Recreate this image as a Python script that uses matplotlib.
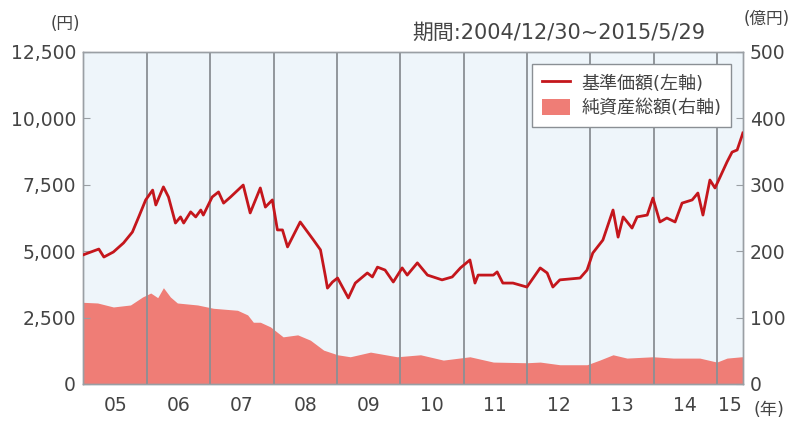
import matplotlib
matplotlib.use("Agg")
import matplotlib.pyplot as plt
from matplotlib.lines import Line2D
from matplotlib.patches import Patch

plt.rcParams['font.family'] = ['DejaVu Sans', 'Noto Sans CJK JP']

# 基準価額 (円), time in decimal years
price_t = [2004.99, 2005.24, 2005.32, 2005.47, 2005.63, 2005.77, 2005.87, 2005.98,
           2006.09, 2006.14, 2006.26, 2006.34, 2006.45, 2006.53, 2006.58, 2006.69,
           2006.77, 2006.85, 2006.89, 2007.03, 2007.13, 2007.21, 2007.32, 2007.52,
           2007.63, 2007.79, 2007.87, 2007.98, 2008.06, 2008.14, 2008.22, 2008.42,
           2008.63, 2008.74, 2008.82, 2008.85, 2008.93, 2009.01, 2009.18, 2009.29,
           2009.48, 2009.56, 2009.64, 2009.76, 2009.89, 2010.03, 2010.11, 2010.27,
           2010.43, 2010.52, 2010.66, 2010.82, 2010.95, 2011.10, 2011.18, 2011.23,
           2011.47, 2011.53, 2011.62, 2011.78, 2012.00, 2012.21, 2012.32, 2012.41,
           2012.52, 2012.84, 2012.95, 2013.04, 2013.20, 2013.36, 2013.44, 2013.52,
           2013.66, 2013.74, 2013.90, 2013.99, 2014.10, 2014.21, 2014.34, 2014.45,
           2014.61, 2014.70, 2014.78, 2014.89, 2014.97, 2015.05, 2015.16, 2015.24,
           2015.32, 2015.39, 2015.41]
price_v = [4860, 5080, 4780, 4970, 5310, 5720, 6290, 6930,
           7300, 6740, 7420, 7040, 6060, 6290, 6060, 6480,
           6290, 6550, 6360, 7040, 7230, 6810, 7040, 7490,
           6440, 7380, 6660, 6930, 5800, 5800, 5160, 6100,
           5420, 5050, 4030, 3610, 3840, 3990, 3240, 3800,
           4180, 4030, 4400, 4290, 3840, 4370, 4100, 4560,
           4100, 4030, 3920, 4030, 4370, 4670, 3800, 4100,
           4100, 4220, 3800, 3800, 3650, 4370, 4180, 3650,
           3920, 3990, 4290, 4930, 5420, 6550, 5530, 6290,
           5870, 6290, 6360, 7000, 6100, 6250, 6100, 6810,
           6930, 7190, 6360, 7680, 7380, 7790, 8360, 8730,
           8810, 9300, 9450]

# 純資産総額 (億円)
nav_t = [2004.99, 2005.22, 2005.47, 2005.74, 2005.93, 2006.06, 2006.17, 2006.26,
         2006.37, 2006.48, 2006.80, 2007.05, 2007.43, 2007.59, 2007.68, 2007.79,
         2007.95, 2008.15, 2008.38, 2008.58, 2008.79, 2009.01, 2009.21, 2009.53,
         2009.95, 2010.32, 2010.68, 2011.10, 2011.47, 2012.00, 2012.21, 2012.52,
         2012.95, 2013.15, 2013.36, 2013.58, 2013.99, 2014.31, 2014.73, 2015.00,
         2015.16, 2015.39, 2015.41]
nav_v = [123, 122, 116, 119, 131, 137, 130, 145,
         131, 122, 119, 114, 111, 104, 93, 93,
         86, 71, 74, 66, 51, 44, 41, 48,
         41, 44, 36, 41, 33, 32, 33, 29,
         29, 36, 44, 39, 41, 39, 39, 33,
         39, 41, 41]

year_bounds = [2006, 2007, 2008, 2009, 2010, 2011, 2012, 2013, 2014, 2015]
xlabel_pos = [2005.5, 2006.5, 2007.5, 2008.5, 2009.5, 2010.5, 2011.5, 2012.5,
              2013.5, 2014.5, 2015.2]
xlabels = ['05', '06', '07', '08', '09', '10', '11', '12', '13', '14', '15']
left_ticks = [0, 2500, 5000, 7500, 10000, 12500]
left_labels = ['0', '2,500', '5,000', '7,500', '10,000', '12,500']
right_ticks = [0, 100, 200, 300, 400, 500]

txt = '#444444'
grid_c = '#8a8f94'
bg = '#eef5fa'
line_c = '#c4161c'
fill_c = '#ef7d76'

fig = plt.figure(figsize=(7.95, 4.26), dpi=100)
ax2 = fig.add_axes([0.1044, 0.0986, 0.830, 0.7794])
ax = ax2.twinx()
ax.set_zorder(ax2.get_zorder() + 1)
ax.patch.set_visible(False)
ax2.set_facecolor(bg)

ax2.fill_between(nav_t, nav_v, 0, color=fill_c, lw=0, zorder=1)
ax2.set_ylim(0, 500)
ax2.set_xlim(2004.99, 2015.41)

for yb in year_bounds:
    ax.axvline(yb, color=grid_c, lw=1.3, zorder=1)
ax.plot(price_t, price_v, color=line_c, lw=2.0, zorder=3)
ax.set_ylim(0, 12500)
ax.set_xlim(2004.99, 2015.41)

ax.yaxis.tick_left()
ax2.yaxis.tick_right()
ax.set_yticks(left_ticks)
ax.set_yticklabels(left_labels)
ax2.set_yticks(right_ticks)
ax2.set_yticklabels([str(v) for v in right_ticks])

for a in (ax, ax2):
    for s in a.spines.values():
        s.set_color('#9a9fa4')
        s.set_linewidth(1.0)
    a.tick_params(axis='y', direction='in', length=5, color='#9a9fa4',
                  labelsize=13.5, labelcolor=txt, pad=5)

ax.set_xticks([])
ax2.set_xticks(xlabel_pos)
ax2.set_xticklabels(xlabels)
ax2.tick_params(axis='x', length=0, labelsize=13.5, labelcolor=txt, pad=9)

fig.text(0.101, 0.944, '(円)', ha='right', va='center', fontsize=12, color=txt)
fig.text(0.936, 0.955, '(億円)', ha='left', va='center', fontsize=12, color=txt)
fig.text(0.887, 0.922, '期間:2004/12/30~2015/5/29', ha='right', va='center',
         fontsize=15, color=txt)
fig.text(0.948, 0.037, '(年)', ha='left', va='center', fontsize=12.5, color=txt)

handles = [Line2D([0], [0], color=line_c, lw=2),
           Patch(facecolor=fill_c, edgecolor='none')]
leg = ax.legend(handles, ['基準価額(左軸)', '純資産総額(右軸)'],
                loc='upper right', bbox_to_anchor=(0.996, 0.99),
                fontsize=13, frameon=True, fancybox=False, framealpha=1,
                edgecolor='#8a8f94', handlelength=1.6, handleheight=1.0,
                borderpad=0.55, labelspacing=0.35, handletextpad=0.6)
for t in leg.get_texts():
    t.set_color(txt)
leg.get_frame().set_linewidth(1.0)

fig.savefig('out.png', dpi=100)
